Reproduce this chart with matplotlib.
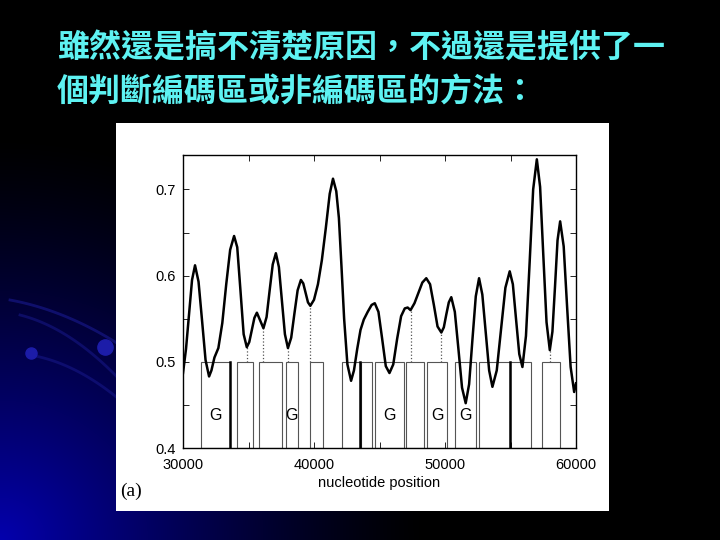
import numpy as np
import matplotlib.pyplot as plt
from matplotlib.patches import Rectangle

# Curva suavizada (posición, valor)
pos = [30000, 30230, 30460, 30690, 30918, 31186, 31454, 31722, 31990,
       32170, 32400, 32700, 33000, 33300, 33600, 33900,
       34140, 34385, 34630, 34870, 35060, 35255, 35450, 35640, 35890, 36140,
       36380, 36615, 36850, 37090, 37320, 37550, 37780, 38010,
       38260, 38505, 38750, 39000, 39180, 39360, 39540, 39720,
       40000, 40300, 40600, 40900, 41200, 41450,
       41700, 41900, 42100, 42300, 42550, 42830,
       43050, 43300, 43550, 43800, 44100, 44400, 44640,
       44920, 45200, 45480, 45760, 46050, 46350, 46650, 46930, 47150, 47370,
       47670, 47970, 48270, 48570, 48860, 49150, 49430, 49720,
       49910, 50100, 50290, 50480, 50750, 51030, 51300, 51580,
       51840, 52090, 52350, 52600, 52850, 53110, 53370, 53620,
       53950, 54280, 54610, 54940, 55180, 55420, 55670, 55910,
       56180, 56460, 56730, 57010, 57260, 57500, 57750, 58000,
       58200, 58400, 58590, 58790, 59060, 59320, 59590, 59860, 60000]
val = [0.487, 0.515, 0.555, 0.595, 0.612, 0.593, 0.548, 0.502, 0.483,
       0.490, 0.505, 0.516, 0.545, 0.590, 0.630, 0.646,
       0.633, 0.583, 0.532, 0.517, 0.523, 0.537, 0.551, 0.557, 0.548, 0.539,
       0.552, 0.583, 0.613, 0.626, 0.610, 0.571, 0.532, 0.516,
       0.528, 0.556, 0.583, 0.595, 0.591, 0.580, 0.569, 0.565,
       0.572, 0.590, 0.618, 0.655, 0.695, 0.7125,
       0.698, 0.667, 0.610, 0.550, 0.497, 0.478,
       0.490, 0.515, 0.537, 0.549, 0.558, 0.566, 0.568,
       0.558, 0.527, 0.495, 0.487, 0.497, 0.527, 0.553, 0.562, 0.563, 0.560,
       0.568, 0.580, 0.592, 0.597, 0.590, 0.566, 0.541, 0.534,
       0.540, 0.555, 0.569, 0.575, 0.558, 0.514, 0.470, 0.452,
       0.474, 0.525, 0.576, 0.597, 0.578, 0.534, 0.490, 0.471,
       0.490, 0.538, 0.586, 0.605, 0.590, 0.550, 0.509, 0.494,
       0.530, 0.615, 0.700, 0.735, 0.703, 0.625, 0.546, 0.5136,
       0.535, 0.588, 0.641, 0.663, 0.634, 0.564, 0.494, 0.465, 0.475]

# Regiones codificantes (inicio, fin)
box_start = [31350, 34100, 35790, 37830, 39660, 42140, 43600, 44640,
             47040, 48590, 50730, 52600, 54940, 57370]
box_end = [33600, 35380, 37550, 38750, 40660, 43540, 44440, 46860,
           48390, 50170, 52340, 54940, 56550, 58750]
thick_x = [33600, 43540, 54940]

# Etiquetas G
g_x = [32450, 38260, 45760, 49410, 51580]

# Líneas punteadas desde los mínimos
dot_x = [34870, 36140, 38010, 39720, 47370, 49720, 58000]
dot_y = [0.517, 0.539, 0.516, 0.565, 0.560, 0.534, 0.5136]

title1 = '雖然還是搞不清楚原因，不過還是提供了一'
title2 = '個判斷編碼區或非編碼區的方法：'

fig = plt.figure(figsize=(7.2, 5.4), dpi=100)

# Fondo de la diapositiva
bg = fig.add_axes([0, 0, 1, 1])
yy, xx = np.mgrid[0:540, 0:720]
r = np.sqrt((xx / 720.0) ** 2 * 1.6 + ((540 - yy) / 540.0) ** 2)
b = np.clip(1.0 - r / 0.75, 0, 1) ** 1.3 * 0.68
img = np.zeros((540, 720, 3))
img[..., 2] = b
img[..., 0] = b * 0.02
bg.imshow(img, extent=[0, 720, 540, 0], aspect='auto')
t = np.linspace(0, 1, 50)
bg.plot(10 + 110 * t, 300 + 20 * t + 25 * t ** 2, color='#1a1a90', lw=2, alpha=0.6)
bg.plot(20 + 100 * t, 315 + 25 * t + 40 * t ** 2, color='#1a1a90', lw=2, alpha=0.5)
bg.plot(30 + 90 * t, 355 + 15 * t + 30 * t ** 2, color='#1a1a90', lw=2, alpha=0.5)
bg.plot([105], [347], 'o', color='#1c1ca8', ms=11)
bg.plot([31], [353], 'o', color='#1c1ca8', ms=8)
bg.set_xlim(0, 720)
bg.set_ylim(540, 0)
bg.axis('off')

# Título
fig.text(0.079, 0.911, title1, color='#5ef2f2', fontsize=23, fontweight='bold',
         family=['Noto Sans CJK TC', 'DejaVu Sans'], va='center', ha='left')
fig.text(0.079, 0.828, title2, color='#5ef2f2', fontsize=23, fontweight='bold',
         family=['Noto Sans CJK TC', 'DejaVu Sans'], va='center', ha='left')

# Panel blanco
fig.patches.append(Rectangle((116 / 720, 29 / 540), 493 / 720, 388 / 540,
                             transform=fig.transFigure, facecolor='white',
                             edgecolor='none', zorder=1))

ax = fig.add_axes([183 / 720, 92 / 540, 393 / 720, 293 / 540], zorder=2)
ax.set_facecolor('white')

for s, e in zip(box_start, box_end):
    ax.add_patch(Rectangle((s, 0.4), e - s, 0.1, facecolor='none',
                           edgecolor='#555555', lw=0.8))
for x in thick_x:
    ax.plot([x, x], [0.4, 0.5], color='black', lw=1.8)
for x, y in zip(dot_x, dot_y):
    ax.plot([x, x], [0.5, y], color='#555555', lw=0.9, ls=':')
for x in g_x:
    ax.text(x, 0.438, 'G', ha='center', va='center', fontsize=11.5,
            family='Liberation Sans', color='black')

ax.plot(pos, val, color='black', lw=1.8, solid_joinstyle='round')

ax.set_xlim(30000, 60000)
ax.set_ylim(0.4, 0.74)
ax.set_xticks([30000, 40000, 50000, 60000])
ax.set_xticks(np.arange(30000, 60001, 5000), minor=True)
ax.set_yticks([0.4, 0.5, 0.6, 0.7])
ax.set_yticklabels(['0.4', '0.5', '0.6', '0.7'])
ax.set_yticks(np.arange(0.4, 0.741, 0.05), minor=True)
ax.tick_params(which='both', direction='in', top=True, right=True,
               labelsize=10.5, length=4, width=0.6)
ax.tick_params(axis='x', which='major', pad=7)
ax.tick_params(axis='y', which='major', pad=5)
for lab in ax.get_xticklabels() + ax.get_yticklabels():
    lab.set_family('Liberation Sans')
for sp in ax.spines.values():
    sp.set_linewidth(1.0)
ax.set_xlabel('nucleotide position', fontsize=10.5, family='Liberation Sans', labelpad=3)

fig.text(120 / 720, 1 - 491 / 540, '(a)', fontsize=14, family='Liberation Serif',
         va='center', ha='left', color='black', zorder=3)

fig.savefig('out.png', dpi=100, facecolor='black')
